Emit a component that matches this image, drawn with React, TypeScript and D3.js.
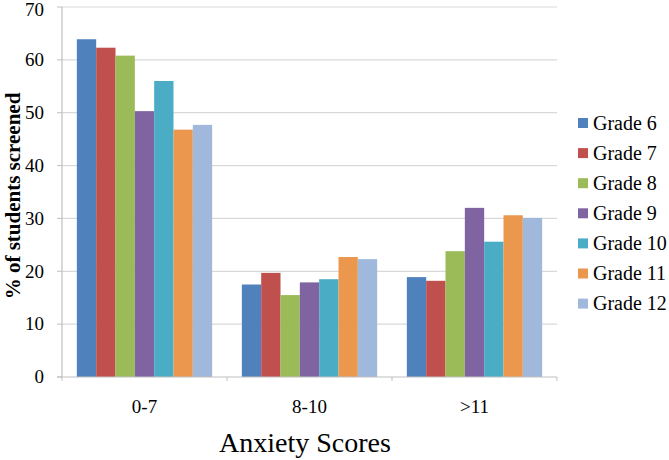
import { useEffect, useRef } from "react";
import { select, scaleBand, scaleLinear, range } from "d3";

const CATEGORIES = ["0-7", "8-10", ">11"];
const GRADES = ["Grade 6", "Grade 7", "Grade 8", "Grade 9", "Grade 10", "Grade 11", "Grade 12"];
const COLORS = ["#4F81BD", "#C0504D", "#9BBB59", "#8064A2", "#4BACC6", "#EB984E", "#A0B8DC"];

// % of students screened, per grade, for each score band
const GRADE6 = [63.9, 17.5, 18.9];
const GRADE7 = [62.3, 19.7, 18.2];
const GRADE8 = [60.8, 15.5, 23.8];
const GRADE9 = [50.3, 17.9, 32.0];
const GRADE10 = [56.0, 18.5, 25.6];
const GRADE11 = [46.8, 22.7, 30.6];
const GRADE12 = [47.7, 22.3, 30.1];
const SERIES = [GRADE6, GRADE7, GRADE8, GRADE9, GRADE10, GRADE11, GRADE12];

const Y_TICKS = [0, 10, 20, 30, 40, 50, 60, 70];

const WIDTH = 669;
const HEIGHT = 460;
const PLOT = { left: 62, right: 557, top: 7, bottom: 377 };
const FONT = "'Liberation Serif', serif";

export default function App() {
  const svgRef = useRef<SVGSVGElement>(null);

  useEffect(() => {
    const svg = select(svgRef.current);
    svg.selectAll("*").remove();

    const x = scaleBand<string>()
      .domain(CATEGORIES)
      .range([PLOT.left, PLOT.right])
      .paddingInner(0.18)
      .paddingOuter(0.09);
    const xInner = scaleBand<string>().domain(GRADES).range([0, x.bandwidth()]);
    const y = scaleLinear().domain([0, 70]).range([PLOT.bottom, PLOT.top]);

    // gridlines
    svg
      .append("g")
      .selectAll("line")
      .data(Y_TICKS.slice(1))
      .join("line")
      .attr("x1", PLOT.left)
      .attr("x2", PLOT.right)
      .attr("y1", (d) => y(d))
      .attr("y2", (d) => y(d))
      .attr("stroke", "#d9d9d9")
      .attr("stroke-width", 1.2);

    // bars
    SERIES.forEach((vals, gi) => {
      svg
        .append("g")
        .selectAll("rect")
        .data(vals)
        .join("rect")
        .attr("x", (_, ci) => (x(CATEGORIES[ci]) ?? 0) + (xInner(GRADES[gi]) ?? 0))
        .attr("y", (d) => y(d))
        .attr("width", xInner.bandwidth())
        .attr("height", (d) => y(0) - y(d))
        .attr("fill", COLORS[gi]);
    });

    // axes lines
    svg
      .append("line")
      .attr("x1", PLOT.left)
      .attr("x2", PLOT.left)
      .attr("y1", PLOT.top)
      .attr("y2", PLOT.bottom)
      .attr("stroke", "#bfbfbf")
      .attr("stroke-width", 1.2);
    svg
      .append("line")
      .attr("x1", PLOT.left - 5)
      .attr("x2", PLOT.right)
      .attr("y1", PLOT.bottom)
      .attr("y2", PLOT.bottom)
      .attr("stroke", "#bfbfbf")
      .attr("stroke-width", 1.2);

    // y tick marks + labels
    svg
      .append("g")
      .selectAll("line")
      .data(Y_TICKS)
      .join("line")
      .attr("x1", PLOT.left - 5)
      .attr("x2", PLOT.left)
      .attr("y1", (d) => y(d))
      .attr("y2", (d) => y(d))
      .attr("stroke", "#bfbfbf");
    svg
      .append("g")
      .selectAll("text")
      .data(Y_TICKS)
      .join("text")
      .attr("x", 44)
      .attr("y", (d) => Math.max(y(d), 10))
      .attr("dy", "0.33em")
      .attr("text-anchor", "end")
      .attr("font-family", FONT)
      .attr("font-size", 19)
      .attr("fill", "#000")
      .text((d) => d);

    // x category boundary ticks
    const step = x.step();
    svg
      .append("g")
      .selectAll("line")
      .data(range(CATEGORIES.length + 1))
      .join("line")
      .attr("x1", (i) => PLOT.left + i * step)
      .attr("x2", (i) => PLOT.left + i * step)
      .attr("y1", PLOT.bottom)
      .attr("y2", PLOT.bottom + 4)
      .attr("stroke", "#bfbfbf");

    // x category labels
    svg
      .append("g")
      .selectAll("text")
      .data(CATEGORIES)
      .join("text")
      .attr("x", (d) => (x(d) ?? 0) + x.bandwidth() / 2)
      .attr("y", 413)
      .attr("text-anchor", "middle")
      .attr("font-family", FONT)
      .attr("font-size", 19)
      .attr("fill", "#000")
      .text((d) => d);

    // axis titles
    svg
      .append("text")
      .attr("x", 305)
      .attr("y", 452)
      .attr("text-anchor", "middle")
      .attr("font-family", FONT)
      .attr("font-size", 28)
      .attr("fill", "#000")
      .text("Anxiety Scores");
    svg
      .append("text")
      .attr("transform", `translate(20,${196}) rotate(-90)`)
      .attr("text-anchor", "middle")
      .attr("font-family", FONT)
      .attr("font-size", 21)
      .attr("font-weight", "bold")
      .attr("fill", "#000")
      .text("% of students screened");

    // legend
    const legend = svg
      .append("g")
      .selectAll("g")
      .data(GRADES)
      .join("g")
      .attr("transform", (_, i) => `translate(578,${123 + i * 30.1})`);
    legend
      .append("rect")
      .attr("x", 0)
      .attr("y", -5)
      .attr("width", 10)
      .attr("height", 10)
      .attr("fill", (_, i) => COLORS[i]);
    legend
      .append("text")
      .attr("x", 15)
      .attr("dy", "0.33em")
      .attr("font-family", FONT)
      .attr("font-size", 20)
      .attr("fill", "#000")
      .text((d) => d);
  }, []);

  return (
    <svg
      ref={svgRef}
      width={WIDTH}
      height={HEIGHT}
      style={{ position: "absolute", left: 0, top: 0, background: "#fff" }}
    />
  );
}
